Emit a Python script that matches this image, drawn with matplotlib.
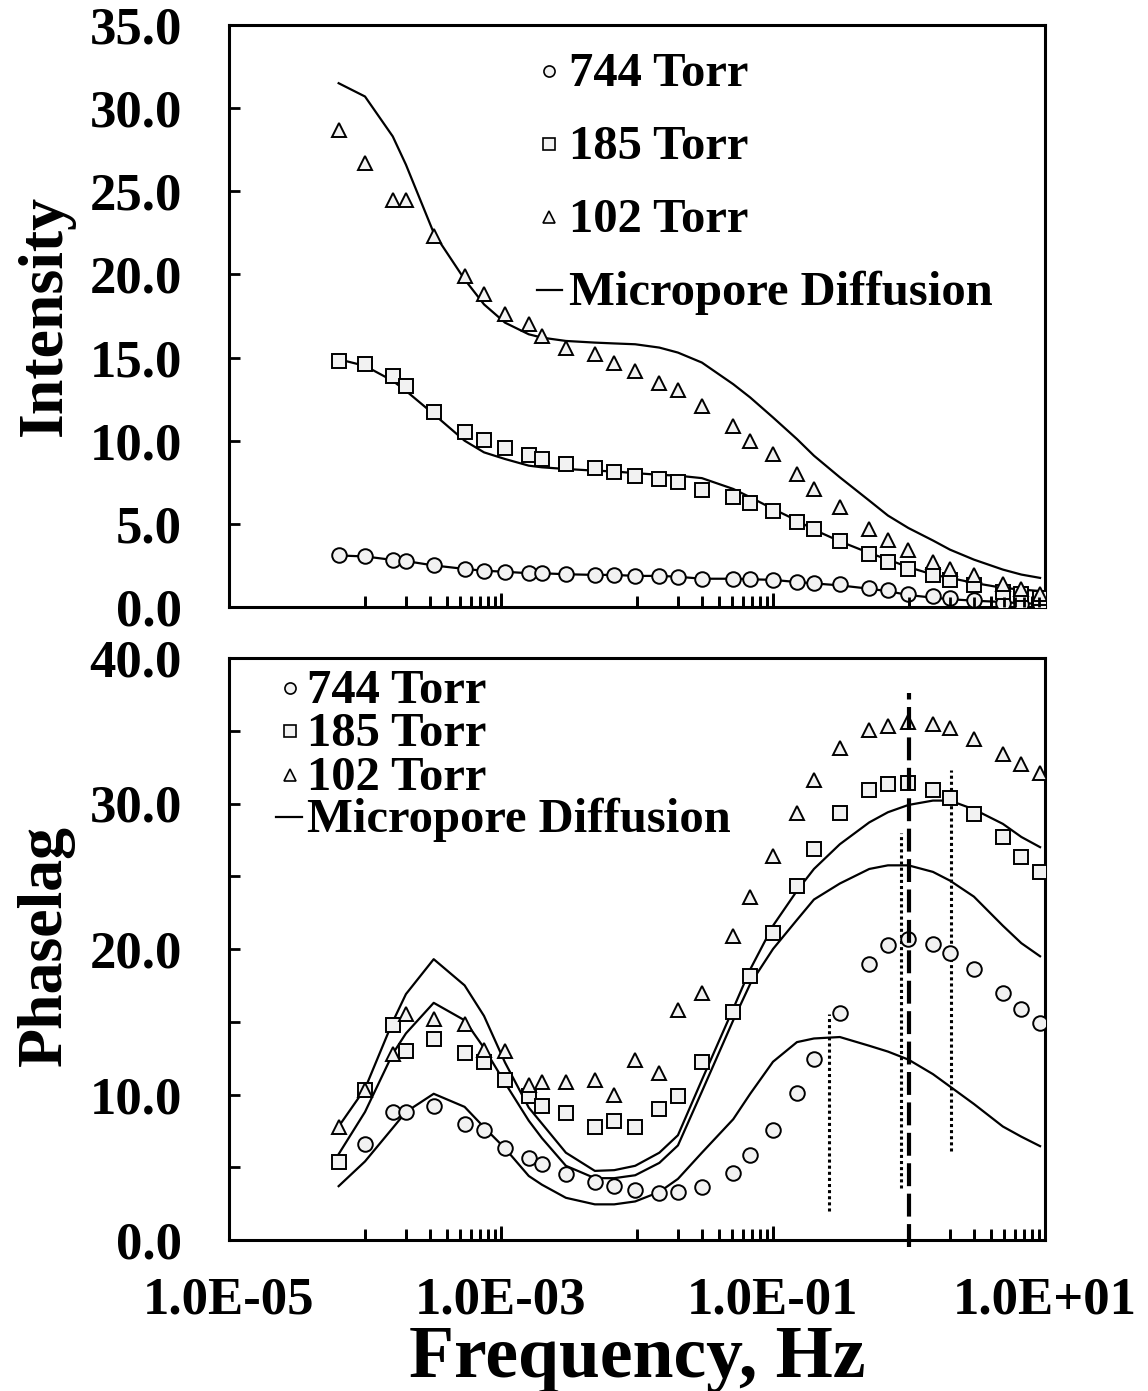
import numpy as np
import matplotlib
matplotlib.use("Agg")
import matplotlib.pyplot as plt
from matplotlib.ticker import FixedLocator, NullFormatter, FuncFormatter

plt.rcParams['font.family'] = ['Liberation Serif', 'DejaVu Serif']
plt.rcParams['font.weight'] = 'bold'

# frequencies shared by all series (Hz)
freq = [6.4e-5, 1.0e-4, 1.6e-4, 2.0e-4, 3.2e-4, 5.4e-4, 7.5e-4, 1.07e-3,
        1.6e-3, 2.0e-3, 3.0e-3, 4.9e-3, 6.8e-3, 9.7e-3, 1.46e-2, 2.0e-2,
        3.0e-2, 5.1e-2, 6.8e-2, 0.10, 0.15, 0.20, 0.31, 0.51,
        0.70, 0.99, 1.5, 2.0, 3.0, 4.9, 6.7, 9.2]

# top panel: intensity data
int_744 = [3.1, 3.04, 2.83, 2.76, 2.5, 2.29, 2.18, 2.12, 2.03, 2.03, 1.97, 1.93,
           1.93, 1.87, 1.87, 1.82, 1.7, 1.7, 1.67, 1.63, 1.52, 1.46, 1.37, 1.16,
           1.0, 0.8, 0.66, 0.56, 0.4, 0.26, 0.16, 0.16]
int_185 = [14.8, 14.6, 13.9, 13.3, 11.7, 10.5, 10.06, 9.57, 9.14, 8.92, 8.6, 8.33,
           8.13, 7.86, 7.68, 7.53, 7.03, 6.6, 6.25, 5.8, 5.14, 4.68, 3.98, 3.17,
           2.71, 2.27, 1.93, 1.61, 1.33, 0.92, 0.77, 0.52]
int_102 = [28.7, 26.7, 24.5, 24.5, 22.3, 19.9, 18.8, 17.6, 17.0, 16.3, 15.6, 15.2,
           14.7, 14.2, 13.5, 13.05, 12.1, 10.9, 10.0, 9.2, 8.0, 7.1, 6.0, 4.7,
           4.0, 3.4, 2.7, 2.3, 1.9, 1.4, 1.07, 0.77]
# top panel: micropore diffusion model
int_mod_744 = [3.1, 3.04, 2.83, 2.76, 2.5, 2.29, 2.18, 2.12, 2.03, 2.03, 1.97, 1.93,
               1.93, 1.87, 1.87, 1.82, 1.7, 1.7, 1.67, 1.63, 1.5, 1.42, 1.3, 1.1,
               0.95, 0.72, 0.56, 0.47, 0.38, 0.3, 0.22, 0.2]
int_mod_185 = [14.9, 14.5, 13.6, 13.0, 11.6, 10.0, 9.3, 8.9, 8.5, 8.4, 8.3, 8.2,
               8.15, 8.05, 7.95, 7.9, 7.75, 7.1, 6.6, 5.9, 5.2, 4.65, 3.95, 3.25,
               2.85, 2.4, 1.95, 1.75, 1.45, 1.15, 1.05, 0.96]
int_mod_102 = [31.5, 30.7, 28.3, 26.6, 22.5, 19.7, 18.2, 17.1, 16.4, 16.2, 16.0, 15.9,
               15.85, 15.8, 15.6, 15.3, 14.7, 13.4, 12.6, 11.4, 10.1, 9.1, 7.8, 6.4,
               5.5, 4.75, 4.0, 3.45, 2.85, 2.25, 1.95, 1.75]

# bottom panel: phase lag data
nan = np.nan
ph_744 = [nan, 6.62, 8.8, 8.78, 9.2, 8.0, 7.54, 6.3, 5.63, 5.2, 4.53, 3.98,
          3.68, 3.45, 3.26, 3.29, 3.62, 4.63, 5.82, 7.55, 10.1, 12.47, 15.63, 19.0,
          20.27, 20.7, 20.33, 19.7, 18.65, 17.0, 15.88, 14.9]
ph_185 = [5.36, 10.3, 14.8, 13.0, 13.84, 12.83, 12.25, 11.0, 9.9, 9.2, 8.74, 7.8,
          8.16, 7.8, 9.0, 9.9, 12.2, 15.7, 18.15, 21.1, 24.36, 26.88, 29.35, 30.96,
          31.33, 31.4, 30.96, 30.39, 29.3, 27.7, 26.34, 25.3]
ph_102 = [7.77, 10.3, 12.76, 15.5, 15.17, 14.83, 13.03, 12.99, 10.64, 10.87, 10.85, 11.03,
          9.95, 12.37, 11.45, 15.8, 17.0, 20.88, 23.55, 26.4, 29.35, 31.63, 33.8, 35.03,
          35.33, 35.6, 35.45, 35.2, 34.4, 33.4, 32.7, 32.07]
# bottom panel: micropore diffusion model
ph_mod_744 = [3.7, 5.4, 7.7, 8.8, 10.05, 9.15, 7.75, 6.3, 4.4, 3.8, 2.9, 2.45,
              2.45, 2.65, 3.3, 4.2, 6.0, 8.3, 10.05, 12.25, 13.6, 13.85, 13.95, 13.35,
              12.95, 12.4, 11.4, 10.55, 9.35, 7.8, 7.1, 6.45]
ph_mod_185 = [5.9, 8.8, 12.8, 14.2, 16.3, 15.1, 13.2, 10.8, 8.2, 7.0, 5.1, 4.25,
              4.25, 4.45, 5.3, 6.5, 10.2, 15.1, 17.6, 20.0, 22.0, 23.4, 24.5, 25.5,
              25.75, 25.75, 25.3, 24.7, 23.6, 21.6, 20.4, 19.5]
ph_mod_102 = [7.8, 10.4, 15.0, 16.9, 19.3, 17.5, 15.4, 12.2, 9.1, 8.0, 6.0, 4.75,
              4.8, 5.1, 6.0, 7.2, 11.0, 15.9, 18.6, 21.6, 24.0, 25.5, 27.2, 28.7,
              29.4, 29.9, 30.2, 30.2, 29.6, 28.6, 27.7, 27.0]

# reference lines in the phase lag panel
dotted_freq = [0.26, 0.88, 2.05]
dotted_low = [2.0, 3.6, 6.1]
dotted_high = [15.5, 28.0, 32.3]
dashed_freq = 1.0
dashed_range = [-0.5, 37.6]

legend_labels = ['744 Torr', '185 Torr', '102 Torr', 'Micropore Diffusion']
markers = ['o', 's', '^']
major_x = [1e-5, 1e-3, 1e-1, 1e1]
minor_x = [k * 10.0 ** e for e in (-4, -2, 0) for k in range(1, 10)]

W, H = 1148, 1391
fig = plt.figure(figsize=(W / 100, H / 100), dpi=100)


def axes_px(left, top, right, bottom):
    return fig.add_axes([left / W, 1 - bottom / H, (right - left) / W, (bottom - top) / H])


ax1 = axes_px(229, 25, 1045, 607)
ax2 = axes_px(229, 658, 1045, 1240)

for ax in (ax1, ax2):
    ax.set_axisbelow(False)
    ax.set_xscale('log')
    ax.set_xlim(1e-5, 1e1)
    for s in ax.spines.values():
        s.set_linewidth(2.2)
    ax.xaxis.set_major_locator(FixedLocator(major_x))
    ax.xaxis.set_minor_locator(FixedLocator(minor_x))
    ax.xaxis.set_minor_formatter(NullFormatter())
    ax.xaxis.set_major_formatter(FuncFormatter(lambda v, p: f"{v:.1E}"))
    ax.tick_params(axis='x', which='major', direction='in', length=10, width=2,
                   color='black', bottom=True, top=False, labelsize=38, pad=26)
    ax.tick_params(axis='x', which='minor', direction='in', length=8, width=2,
                   color='black', bottom=True, top=False)
    ax.tick_params(axis='y', which='both', direction='in', length=8, width=2,
                   labelsize=38, pad=34)

ax1.tick_params(axis='x', labelbottom=False)
ax1.set_ylim(0, 35)
ax1.yaxis.set_major_locator(FixedLocator(np.arange(0, 36, 5)))
ax2.set_ylim(0, 40)
ax2.yaxis.set_major_locator(FixedLocator(np.arange(0, 41, 10)))
ax2.yaxis.set_minor_locator(FixedLocator(np.arange(5, 40, 10)))
for ax in (ax1, ax2):
    ax.yaxis.set_major_formatter(FuncFormatter(lambda v, p: f"{v:.1f}"))

mk = dict(ls='none', ms=10.5, mfc='#f2f2f2', mec='black', mew=1.4, zorder=3)
line_kw = dict(color='black', lw=1.6, zorder=2)

# top panel
for mod in (int_mod_744, int_mod_185, int_mod_102):
    ax1.plot(freq, mod, **line_kw)
for data, m in zip((int_744, int_185, int_102), markers):
    ax1.plot(freq, data, marker=m, **mk)

# bottom panel
for mod in (ph_mod_744, ph_mod_185, ph_mod_102):
    ax2.plot(freq, mod, **line_kw)
for data, m in zip((ph_744, ph_185, ph_102), markers):
    ax2.plot(freq, data, marker=m, **mk)

for f, lo, hi in zip(dotted_freq, dotted_low, dotted_high):
    ax2.plot([f, f], [lo, hi], color='black', lw=2.2, ls=(0, (1, 1)), zorder=2)
ax2.plot([dashed_freq, dashed_freq], dashed_range, color='black', lw=3,
         ls=(0, (5.5, 1.8)), zorder=4, clip_on=False)

# the x tick marks along the bottom spine (same list as the tick locators)
for ax in (ax1, ax2):
    xt = ax.get_xaxis_transform()
    ax.vlines(minor_x, 0, 10 / 582, transform=xt, colors='black', lw=2, zorder=5,
              clip_on=False)
    ax.vlines(major_x[1:-1], 0, 13 / 582, transform=xt, colors='black', lw=2, zorder=5,
              clip_on=False)


def legend_px(ax, box, mark_x, text_x, dash, baselines):
    left, top, right, bottom = box
    def fx(x):
        return (x - left) / (right - left)
    def fy(y):
        return (bottom - y) / (bottom - top)
    for i, lab in enumerate(legend_labels):
        base = baselines[i]
        mid = base - 15
        if i < 3:
            ax.plot([fx(mark_x)], [fy(mid)], transform=ax.transAxes, marker=markers[i],
                    ls='none', ms=8, mfc='#f2f2f2', mec='black', mew=1.2, clip_on=False)
        else:
            ax.plot([fx(dash[0]), fx(dash[1])], [fy(mid), fy(mid)], transform=ax.transAxes,
                    color='black', lw=1.6, clip_on=False)
        ax.text(fx(text_x), fy(base), lab, transform=ax.transAxes, fontsize=35,
                fontweight='bold', ha='left', va='baseline')


legend_px(ax1, (229, 25, 1045, 607), 549, 569, (537, 562), [86, 159, 232, 305])
legend_px(ax2, (229, 658, 1045, 1240), 290, 307, (276, 302), [703, 746, 790, 832])

fig.text(637 / W, 1 - 1377 / H, 'Frequency, Hz', ha='center', va='baseline',
         fontsize=53, fontweight='bold')
fig.text(46 / W, 1 - 315 / H, 'Intensity', ha='center', va='center', rotation=90,
         fontsize=46, fontweight='bold')
fig.text(46 / W, 1 - 945 / H, 'Phaselag', ha='center', va='center', rotation=90,
         fontsize=46, fontweight='bold')

fig.savefig('out.png', dpi=100)
